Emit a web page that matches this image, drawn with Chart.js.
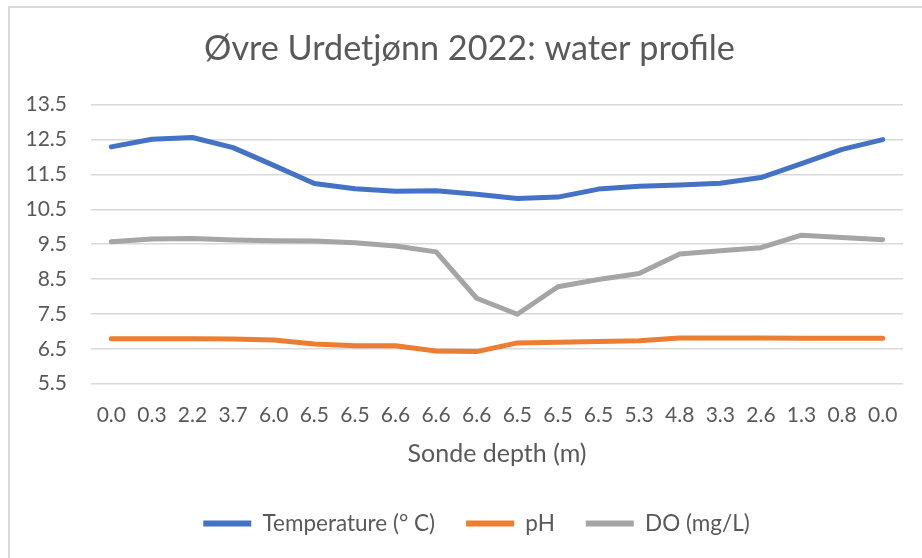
<!DOCTYPE html>
<html>
<head>
<meta charset="utf-8">
<title>Øvre Urdetjønn 2022: water profile</title>
<script src="https://cdn.jsdelivr.net/npm/chart.js@4.4.0/dist/chart.umd.min.js"></script>
<style>
    html, body { margin: 0; padding: 0; background: #fff; overflow: hidden; }
    #frame { position: absolute; left: 8px; top: 6px; width: 960px; height: 620px;
             border-left: 2px solid #d9d9d9; border-top: 2px solid #d9d9d9; }
    #wrap { position: absolute; left: 0; top: 0; width: 934px; height: 558px; }
</style>
</head>
<body>
<div id="frame"></div>
<div id="wrap"><canvas id="profileChart"></canvas></div>
<script>
// sonde depth at each reading (down and back up)
const depths = ['0.0', '0.3', '2.2', '3.7', '6.0', '6.5', '6.5', '6.6', '6.6', '6.6',
                '6.5', '6.5', '6.5', '5.3', '4.8', '3.3', '2.6', '1.3', '0.8', '0.0'];

const temperature = [12.29, 12.51, 12.56, 12.27, 11.76, 11.24, 11.09, 11.02, 11.03, 10.93,
                     10.81, 10.85, 11.08, 11.16, 11.20, 11.25, 11.41, 11.81, 12.22, 12.50];

const ph = [6.79, 6.79, 6.79, 6.78, 6.75, 6.64, 6.59, 6.59, 6.44, 6.42,
            6.67, 6.69, 6.71, 6.73, 6.81, 6.81, 6.81, 6.80, 6.80, 6.80];

const dissolvedOxygen = [9.57, 9.65, 9.66, 9.62, 9.60, 9.59, 9.54, 9.45, 9.28, 7.95,
                         7.49, 8.28, 8.49, 8.66, 9.22, 9.31, 9.40, 9.76, 9.69, 9.63];

const textColor = '#595959';
const fontFamily = 'Lato, "Open Sans", sans-serif';

// layout targets (px)
const padLeft = 20;
const plotLeft = 91, plotTop = 104.7, plotBottom = 383.7;
const titleSize = 34.2, titleTop = 28.2;
const legendPad = 31, legendFont = 22.5;
const legendTop = 523.5 - legendPad - legendFont / 2;

function series(label, data, color) {
    return {
        label: label,
        data: data,
        borderColor: color,
        backgroundColor: color,
        borderWidth: 5,
        borderJoinStyle: 'round',
        borderCapStyle: 'round',
        pointRadius: 0,
        tension: 0
    };
}

// excel centres title and legend on the whole chart frame, not the padded box
const nudgeBoxes = {
    id: 'nudgeBoxes',
    afterLayout: function (c) {
        c.titleBlock.left += 8; c.titleBlock.right += 8;
        c.legend.left += 15; c.legend.right += 15;
    }
};

const ctx = document.getElementById('profileChart');
new Chart(ctx, {
    type: 'line',
    data: {
        labels: depths,
        datasets: [
            series('Temperature (° C)', temperature, '#4472c4'),
            series('pH', ph, '#ed7d31'),
            series('DO (mg/L)', dissolvedOxygen, '#a5a5a5')
        ]
    },
    options: {
        responsive: true,
        maintainAspectRatio: false,
        animation: false,
        layout: { padding: { left: padLeft, right: 31, top: 0, bottom: 558 - (legendTop + legendFont + legendPad + 10) } },
        plugins: {
            title: {
                display: true,
                text: 'Øvre Urdetjønn 2022: water profile',
                color: textColor,
                font: { family: fontFamily, size: titleSize, weight: 'normal', lineHeight: 1.2 },
                padding: { top: titleTop, bottom: plotTop - titleTop - titleSize * 1.2 }
            },
            legend: {
                position: 'bottom',
                labels: {
                    color: textColor,
                    font: { family: fontFamily, size: legendFont },
                    usePointStyle: true,
                    pointStyle: 'line',
                    pointStyleWidth: 48,
                    padding: legendPad,
                    generateLabels: function (c) {
                        const items = Chart.defaults.plugins.legend.labels.generateLabels(c);
                        items.forEach(function (item) { item.lineWidth = 6; item.pointStyle = 'line'; });
                        return items;
                    }
                }
            },
            tooltip: { enabled: false }
        },
        scales: {
            x: {
                offset: true,
                grid: { display: false, drawTicks: false },
                border: { display: false },
                ticks: {
                    color: textColor,
                    font: { family: fontFamily, size: 21 },
                    padding: 19,
                    maxRotation: 0,
                    autoSkip: false
                },
                title: {
                    display: true,
                    text: 'Sonde depth (m)',
                    color: textColor,
                    font: { family: fontFamily, size: 25, lineHeight: 1.2 },
                    padding: { top: 0, bottom: legendTop - 453.8 - 15 }
                },
                afterFit: function (scale) { scale.height = legendTop - plotBottom; }
            },
            y: {
                min: 5.5,
                max: 13.5,
                grid: { color: '#d9d9d9', lineWidth: 1.5, drawTicks: false },
                border: { display: false },
                ticks: {
                    stepSize: 1,
                    color: textColor,
                    font: { family: fontFamily, size: 21 },
                    padding: 24,
                    callback: function (v) { return v.toFixed(1); }
                },
                afterFit: function (scale) { scale.width = plotLeft - padLeft; }
            }
        }
    },
    plugins: [nudgeBoxes]
});
</script>
</body>
</html>
